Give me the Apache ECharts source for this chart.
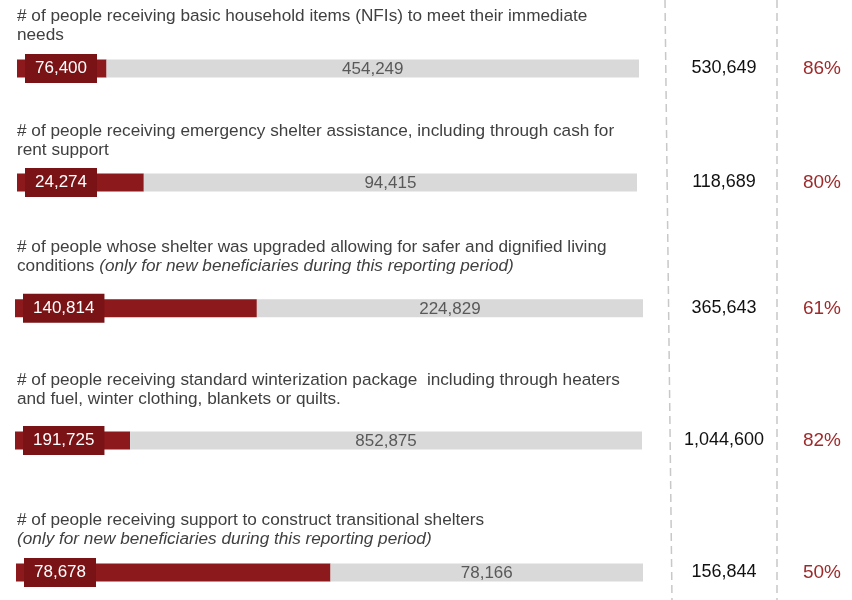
<!DOCTYPE html>
<html><head><meta charset="utf-8">
<script src="https://cdn.jsdelivr.net/npm/echarts@6/dist/echarts.min.js"></script>
<style>html,body{margin:0;padding:0;background:#fff}#c{width:852px;height:600px}</style>
</head><body><div id="c"></div>
<script>
// ---- data ----
const descriptions = [
  "# of people receiving basic household items (NFIs) to meet their immediate\nneeds",
  "# of people receiving emergency shelter assistance, including through cash for\nrent support",
  "# of people whose shelter was upgraded allowing for safer and dignified living\nconditions {i|(only for new beneficiaries during this reporting period)}",
  "# of people receiving standard winterization package  including through heaters\nand fuel, winter clothing, blankets or quilts.",
  "# of people receiving support to construct transitional shelters\n{i|(only for new beneficiaries during this reporting period)}"
];
const reached = [76400, 24274, 140814, 191725, 78678];
const remaining = [454249, 94415, 224829, 852875, 78166];
const totals = [530649, 118689, 365643, 1044600, 156844];
const gapPercents = [86, 80, 61, 82, 50];

// ---- layout (positions/styles) ----
const barCenters = [68.5, 182.5, 308.3, 440.5, 572.5];
const barStarts = [17, 17, 15, 15, 16];
const barEnds = [639, 637, 643, 642, 643];
const titleTops = [7, 121.5, 237.5, 371, 510.5];
const barH = 18;
const totalColLeft = 674;
const FF = "'Liberation Sans', Arial, sans-serif";

const fmt = v => v.toLocaleString('en-US');

const grids = [], xAxes = [], yAxes = [], series = [], titles = [];
for (let i = 0; i < reached.length; i++) {
  grids.push({left: barStarts[i], right: 852 - barEnds[i], top: barCenters[i] - barH / 2, height: barH, containLabel: false});
  xAxes.push({type: 'value', gridIndex: i, min: 0, max: totals[i], show: false});
  yAxes.push({
    type: 'category', gridIndex: i, data: ['r'], position: 'right',
    axisLine: {show: false}, axisTick: {show: false}, splitLine: {show: false},
    axisLabel: {
      show: true, margin: totalColLeft - barEnds[i], align: 'left',
      formatter: () => '{t|' + fmt(totals[i]) + '}{p|' + gapPercents[i] + '%}',
      rich: {
        t: {width: 100, align: 'center', fontSize: 18, color: '#111', fontFamily: FF},
        p: {width: 96, align: 'center', fontSize: 19, color: '#9e2a2b', fontFamily: FF}
      }
    }
  });
  series.push({
    type: 'bar', xAxisIndex: i, yAxisIndex: i, stack: 's' + i, barWidth: barH,
    data: [reached[i]], itemStyle: {color: '#8c191c'}, silent: true,
    label: {
      show: true, position: 'insideLeft', distance: 8,
      formatter: p => fmt(p.value),
      color: '#fff', fontSize: 17, fontFamily: FF,
      backgroundColor: '#7a1316', padding: [6, 10, 6, 10]
    }
  });
  series.push({
    type: 'bar', xAxisIndex: i, yAxisIndex: i, stack: 's' + i, barWidth: barH,
    data: [remaining[i]], itemStyle: {color: '#d9d9d9'}, silent: true,
    label: {
      show: true, position: 'inside', offset: [0, 1],
      formatter: p => fmt(p.value),
      color: '#595959', fontSize: 17, fontFamily: FF
    }
  });
  titles.push({
    text: descriptions[i], left: 17, top: titleTops[i], padding: 0,
    textStyle: {
      fontSize: 17.2, fontWeight: 'normal', color: '#404040', lineHeight: 19,
      fontFamily: FF,
      rich: {i: {fontStyle: 'italic', fontSize: 17.2, color: '#404040', lineHeight: 19, fontFamily: FF}}
    }
  });
}

const chart = echarts.init(document.getElementById('c'), null, {renderer: 'canvas'});
chart.setOption({
  animation: false,
  title: titles,
  grid: grids, xAxis: xAxes, yAxis: yAxes, series: series,
  graphic: [
    {type: 'line', z: 0, shape: {x1: 665, y1: 0, x2: 672, y2: 600}, style: {stroke: '#c8c8c8', lineWidth: 1.5, lineDash: [8, 5]}},
    {type: 'line', z: 0, shape: {x1: 777, y1: 0, x2: 777, y2: 600}, style: {stroke: '#c8c8c8', lineWidth: 1.5, lineDash: [8, 5]}}
  ]
});
</script></body></html>
